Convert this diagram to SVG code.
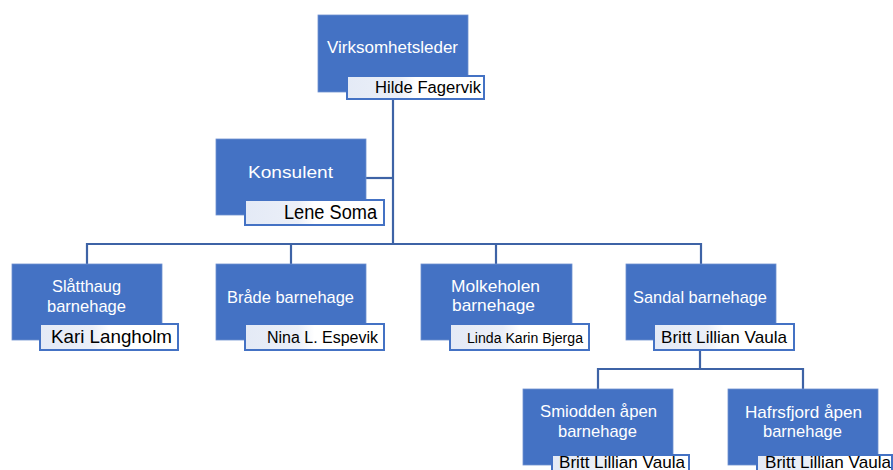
<svg xmlns="http://www.w3.org/2000/svg" width="893" height="470" viewBox="0 0 893 470">
<defs>
<linearGradient id="nb" x1="0" y1="0" x2="1" y2="0">
<stop offset="0" stop-color="#e4eaf6"/>
<stop offset="0.38" stop-color="#ebeff8"/>
<stop offset="0.5" stop-color="#ffffff"/>
<stop offset="1" stop-color="#ffffff"/>
</linearGradient>
</defs>
<style>
.box{fill:#4472c4;stroke:#6f91d0;stroke-width:0.8}
.name{fill:url(#nb);stroke:#4472c4;stroke-width:2}
.t{font-family:"Liberation Sans",Arial,sans-serif;fill:#ffffff;font-size:17px}
.n{font-family:"Liberation Sans",Arial,sans-serif;fill:#000000}
.conn{fill:none;stroke:#3e63a6;stroke-width:2.2}
</style>
<rect width="893" height="470" fill="#ffffff"/>
<g id="connectors">
<path class="conn" d="M393 99 V244"/>
<path class="conn" d="M366 178 H393"/>
<path class="conn" d="M87 264 V244 H701 V264"/>
<path class="conn" d="M291 244 V264"/>
<path class="conn" d="M496 244 V264"/>
<path class="conn" d="M700 350 V369"/>
<path class="conn" d="M598 389 V369 H803 V389"/>
</g>
<g id="virksomhetsleder">
<rect class="box" x="318" y="15" width="150" height="77"/>
<text class="t" x="327" y="53" textLength="131" lengthAdjust="spacingAndGlyphs">Virksomhetsleder</text>
<rect class="name" x="347" y="76" width="137" height="23"/>
<text class="n" x="375" y="93" font-size="16" textLength="106" lengthAdjust="spacingAndGlyphs">Hilde Fagervik</text>
</g>
<g id="konsulent">
<rect class="box" x="216" y="139" width="150" height="76"/>
<text class="t" x="248" y="178" font-size="18" textLength="85" lengthAdjust="spacingAndGlyphs">Konsulent</text>
<rect class="name" x="245" y="200" width="139" height="25"/>
<text class="n" x="284" y="219" font-size="20" textLength="93" lengthAdjust="spacingAndGlyphs">Lene Soma</text>
</g>
<g id="slatthaug">
<rect class="box" x="12" y="264" width="150" height="76"/>
<text class="t" x="52" y="292" textLength="69" lengthAdjust="spacingAndGlyphs">Slåtthaug</text>
<text class="t" x="47" y="312" textLength="79" lengthAdjust="spacingAndGlyphs">barnehage</text>
<rect class="name" x="40" y="324" width="138" height="26"/>
<text class="n" x="51" y="342.5" font-size="18.5" textLength="121" lengthAdjust="spacingAndGlyphs">Kari Langholm</text>
</g>
<g id="brade">
<rect class="box" x="216" y="264" width="150" height="76"/>
<text class="t" x="227" y="303" textLength="127" lengthAdjust="spacingAndGlyphs">Bråde barnehage</text>
<rect class="name" x="245" y="324" width="139" height="26"/>
<text class="n" x="267" y="342.5" font-size="16" textLength="111" lengthAdjust="spacingAndGlyphs">Nina L. Espevik</text>
</g>
<g id="molkeholen">
<rect class="box" x="421" y="264" width="151" height="76"/>
<text class="t" x="451" y="292" textLength="89" lengthAdjust="spacingAndGlyphs">Molkeholen</text>
<text class="t" x="452" y="311" textLength="83" lengthAdjust="spacingAndGlyphs">barnehage</text>
<rect class="name" x="450" y="324" width="139" height="26"/>
<text class="n" x="467" y="342.5" font-size="14" textLength="116" lengthAdjust="spacingAndGlyphs">Linda Karin Bjerga</text>
</g>
<g id="sandal">
<rect class="box" x="626" y="264" width="150" height="76"/>
<text class="t" x="633" y="303" textLength="134" lengthAdjust="spacingAndGlyphs">Sandal barnehage</text>
<rect class="name" x="654" y="324" width="140" height="26"/>
<text class="n" x="661" y="342.5" font-size="17" textLength="126" lengthAdjust="spacingAndGlyphs">Britt Lillian Vaula</text>
</g>
<g id="smiodden">
<rect class="box" x="523" y="389" width="150" height="76"/>
<text class="t" x="540" y="417" textLength="117" lengthAdjust="spacingAndGlyphs">Smiodden åpen</text>
<text class="t" x="558" y="437" textLength="79" lengthAdjust="spacingAndGlyphs">barnehage</text>
<rect class="name" x="552" y="455" width="137" height="26"/>
<text class="n" x="559" y="467.5" font-size="17" textLength="126" lengthAdjust="spacingAndGlyphs">Britt Lillian Vaula</text>
</g>
<g id="hafrsfjord">
<rect class="box" x="728" y="389" width="150" height="76"/>
<text class="t" x="745" y="418" textLength="117" lengthAdjust="spacingAndGlyphs">Hafrsfjord åpen</text>
<text class="t" x="763" y="437" textLength="79" lengthAdjust="spacingAndGlyphs">barnehage</text>
<rect class="name" x="757" y="455" width="135" height="26"/>
<text class="n" x="765" y="467.5" font-size="17" textLength="126" lengthAdjust="spacingAndGlyphs">Britt Lillian Vaula</text>
</g>
</svg>
